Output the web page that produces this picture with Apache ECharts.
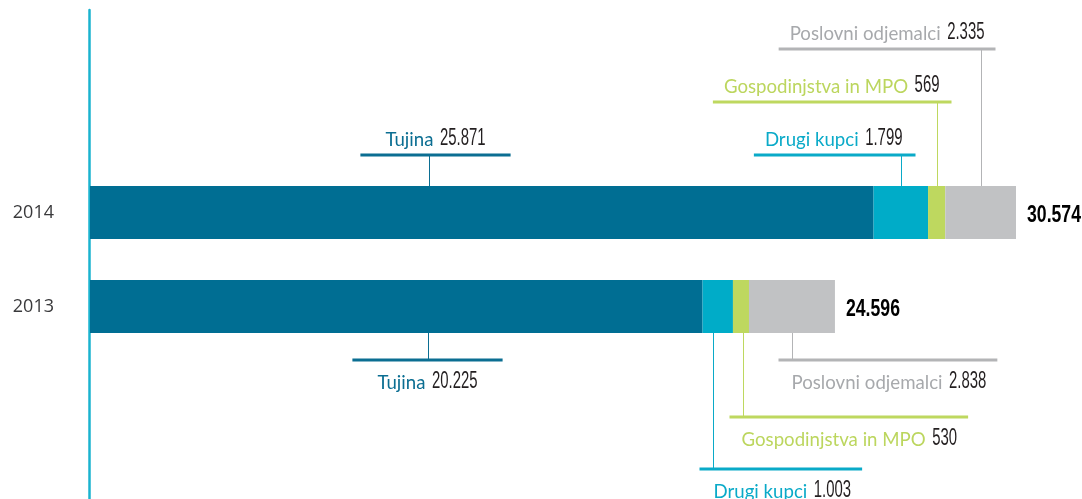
<!DOCTYPE html>
<html>
<head>
<meta charset="utf-8">
<script src="https://cdn.jsdelivr.net/npm/echarts@6/dist/echarts.min.js"></script>
<style>
  html, body { margin: 0; padding: 0; background: #fff; }
  #chart { width: 1082px; height: 499px; }
</style>
</head>
<body>
<div id="chart"></div>
<script>
// podatki (GWh)
const years = ['2013', '2014'];
const seriesNames = ['Tujina', 'Drugi kupci', 'Gospodinjstva in MPO', 'Poslovni odjemalci'];
const tujina = [20225, 25871];
const drugiKupci = [1003, 1799];
const gospodinjstva = [530, 569];
const poslovni = [2838, 2335];

const values = [tujina, drugiKupci, gospodinjstva, poslovni];
const barColors = ['#006e93', '#00acc8', '#bed85f', '#c1c2c4'];
const nameColors = ['#0b6e92', '#0aaac8', '#bcd65e', '#a7a9ac'];
const lineColors = ['#0b6e92', '#0aaac8', '#bed85f', '#b3b4b6'];

// postavitev oznak: [leto, serija, stran, nivo, poravnava, sidro v segmentu, zamik]
const annoLayout = [
  [1, 0, 'top', 0, 'center', 0.433, 6],
  [1, 1, 'top', 0, 'right', 0.5, 1],
  [1, 2, 'top', 1, 'right', 0.5, 2],
  [1, 3, 'top', 2, 'right', 0.5, 3],
  [0, 0, 'bottom', 0, 'center', 0.551, -1],
  [0, 3, 'bottom', 0, 'left', 0.5, -1],
  [0, 2, 'bottom', 1, 'left', 0.63, -2],
  [0, 1, 'bottom', 2, 'left', 0.355, 0]
];
const topOff = [31, 84, 137];
const botOff = [27, 84, 136];
const BAR_H = 53;

// slovenski zapis števil 25.871
function fmt(v) {
  return String(v).replace(/\B(?=(\d{3})+(?!\d))/g, '.');
}

const totals = years.map((y, i) => values.reduce((s, arr) => s + arr[i], 0));

// merjenje besedila
const ctx = document.createElement('canvas').getContext('2d');
function measure(text, font) {
  ctx.font = font;
  return ctx.measureText(text).width;
}
const nameFont = 'normal 20px Lato, "Open Sans"';
const valFont = 'normal 23px "Liberation Sans Narrow", "Liberation Sans"';
const totalFont = 'bold 23px "Liberation Sans Narrow", "Liberation Sans"';
const nameScale = 151 / measure('Poslovni odjemalci', nameFont);
const valScale = 33.2 / measure('0000', valFont);
const totalScale = 54 / measure('00.000', totalFont);
const GAP = 6.5;

const annoData = annoLayout.map(a => {
  let start = 0;
  for (let s = 0; s < a[1]; s++) start += values[s][a[0]];
  return [start + a[5] * values[a[1]][a[0]], a[0]];
});
const totalData = totals.map((t, i) => [t, i]);

function renderAnno(params, api) {
  const a = annoLayout[params.dataIndex];
  const s = a[1];
  const p = api.coord([api.value(0), api.value(1)]);
  const lx = Math.round(p[0]) + 0.5;
  const top = a[2] === 'top';
  const edge = top ? p[1] - BAR_H / 2 : p[1] + BAR_H / 2;
  const ly = top ? edge - topOff[a[3]] : edge + botOff[a[3]];
  const ty = top ? ly - 15.5 : ly + 22.5;

  const name = seriesNames[s];
  const val = fmt(values[s][a[0]]);
  const nameW = measure(name, nameFont) * nameScale;
  const valW = measure(val, valFont) * valScale;
  const total = nameW + GAP + valW;

  let left, x1, x2;
  if (a[4] === 'right') {
    left = lx + a[6] - total;
    x1 = left - 11;
    x2 = lx + 14;
  } else if (a[4] === 'left') {
    left = lx + a[6];
    x1 = lx - 14;
    x2 = left + total + 11;
  } else {
    left = lx + a[6] - total / 2;
    x1 = left - 25;
    x2 = left + total + 25;
  }

  return {
    type: 'group',
    children: [
      {
        type: 'line',
        shape: { x1: lx, y1: edge, x2: lx, y2: ly },
        style: { stroke: lineColors[s], lineWidth: 1 }
      },
      {
        type: 'line',
        shape: { x1: x1, y1: ly, x2: x2, y2: ly },
        style: { stroke: lineColors[s], lineWidth: 3 }
      },
      {
        type: 'text',
        x: left,
        y: ty,
        scaleX: nameScale,
        style: { text: name, font: nameFont, fill: nameColors[s], align: 'left', verticalAlign: 'middle' }
      },
      {
        type: 'text',
        x: left + nameW + GAP,
        y: ty - 1,
        scaleX: valScale,
        style: { text: val, font: valFont, fill: '#231f20', align: 'left', verticalAlign: 'middle' }
      }
    ]
  };
}

function renderTotal(params, api) {
  const p = api.coord([api.value(0), api.value(1)]);
  return {
    type: 'text',
    x: p[0] + 11,
    y: p[1] + 3,
    scaleX: totalScale,
    style: { text: fmt(api.value(0)), font: totalFont, fill: '#000', align: 'left', verticalAlign: 'middle' }
  };
}

const myChart = echarts.init(document.getElementById('chart'), null, { renderer: 'canvas' });

const series = seriesNames.map((n, i) => ({
  name: n,
  type: 'bar',
  stack: 'skupaj',
  data: values[i],
  barWidth: BAR_H,
  itemStyle: { color: barColors[i] },
  silent: true
}));

series.push({
  type: 'custom',
  coordinateSystem: 'cartesian2d',
  xAxisIndex: 0,
  yAxisIndex: 0,
  data: annoData,
  encode: { x: 0, y: 1 },
  renderItem: renderAnno,
  silent: true,
  z: 5
});
series.push({
  type: 'custom',
  coordinateSystem: 'cartesian2d',
  xAxisIndex: 0,
  yAxisIndex: 0,
  data: totalData,
  encode: { x: 0, y: 1 },
  renderItem: renderTotal,
  silent: true,
  z: 5
});

const option = {
  animation: false,
  backgroundColor: '#fff',
  grid: [
    { left: 90, right: 22.8, top: 165.5, height: 188, containLabel: false },
    // samo navpična os čez celo višino
    { left: 89, width: 10, top: 10, bottom: 0, containLabel: false }
  ],
  xAxis: [
    { type: 'value', gridIndex: 0, min: 0, max: 32000, show: false },
    { type: 'value', gridIndex: 1, min: 0, max: 1, show: false }
  ],
  yAxis: [
    {
      type: 'category',
      gridIndex: 0,
      data: years,
      axisLine: { show: false },
      axisTick: { show: false },
      splitLine: { show: false },
      axisLabel: {
        margin: 36,
        fontFamily: 'Open Sans',
        fontSize: 18,
        fontWeight: 'normal',
        color: '#3a3a3c'
      }
    },
    {
      type: 'value',
      gridIndex: 1,
      min: 0,
      max: 1,
      axisLine: { show: true, onZero: false, lineStyle: { color: '#1ab3cf', width: 2.5 } },
      axisTick: { show: false },
      axisLabel: { show: false },
      splitLine: { show: false }
    }
  ],
  series: series
};

myChart.setOption(option);
</script>
</body>
</html>
